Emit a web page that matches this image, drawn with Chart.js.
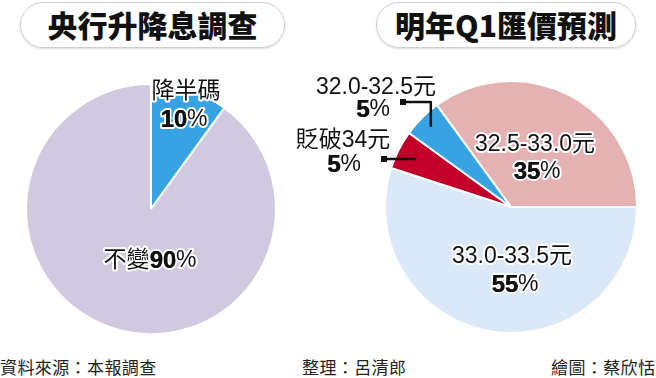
<!DOCTYPE html>
<html>
<head>
<meta charset="utf-8">
<script src="https://cdn.jsdelivr.net/npm/chart.js@4.4.0/dist/chart.umd.min.js"></script>
<style>
body { margin: 0; width: 656px; height: 378px; background: #fff; position: relative; overflow: hidden; }
.title { position: absolute; top: 2px; height: 46px; box-sizing: border-box; border: 1.5px solid #cfcfcf; border-radius: 23px;
  font: 900 30px "Noto Sans CJK TC", sans-serif; line-height: 42px; text-align: center; color: #111;
  box-shadow: 0 1px 2px rgba(0,0,0,0.15); }
canvas { position: absolute; }
.foot { position: absolute; top: 356px; font: 17px "Noto Sans CJK TC", sans-serif; line-height: 22px; color: #222; letter-spacing: 0.4px; }
</style>
</head>
<body>
<div class="title" style="left:20px;width:265px">央行升降息調查</div>
<div class="title" style="left:376px;width:260px">明年Q1匯價預測</div>
<canvas id="rateChart" width="280" height="295" style="left:0;top:50px"></canvas>
<canvas id="fxChart" width="376" height="295" style="left:280px;top:50px"></canvas>
<div class="foot" style="left:0">資料來源：本報調查</div>
<div class="foot" style="left:302px">整理：呂清郎</div>
<div class="foot" style="left:551px">繪圖：蔡欣恬</div>

<script>
// central bank survey
const rateCategories = ['降半碼', '不變'];
const rateValues = [10, 90];
const rateColors = ['#38a3e3', '#d1c9e0'];

// Q1 exchange-rate forecast
const fxCategories = ['32.5-33.0元', '33.0-33.5元', '貶破34元', '32.0-32.5元'];
const fxValues = [35, 55, 5, 5];
const fxColors = ['#e4b2b2', '#dbe8f8', '#c3002a', '#38a3e3'];

const nameFont = '23px "Liberation Sans", "Noto Sans CJK TC", sans-serif';
const numFont = 'bold 24px "Liberation Sans", sans-serif';
const pctFont = '23px "Liberation Sans", sans-serif';

// draws a line made of pieces, bold digits and regular text
function drawPieces(ctx, pieces, cx, cy, halo) {
    let w = 0;
    pieces.forEach(p => { ctx.font = p.font; w += ctx.measureText(p.text).width; });
    let x = cx - w / 2;
    ctx.textBaseline = 'middle';
    ctx.textAlign = 'left';
    pieces.forEach(p => {
        ctx.font = p.font;
        if (halo) {
            ctx.lineWidth = 4;
            ctx.lineJoin = 'round';
            ctx.strokeStyle = '#fff';
            ctx.strokeText(p.text, x, cy);
        }
        ctx.fillStyle = '#111';
        ctx.fillText(p.text, x, cy);
        if (p.font === numFont) ctx.fillText(p.text, x + 0.6, cy); // a touch heavier
        x += ctx.measureText(p.text).width;
    });
}

function valuePieces(v) {
    return [{ text: String(v), font: numFont }, { text: '%', font: pctFont }];
}

const sliceLabels = {
    id: 'sliceLabels',
    afterDatasetsDraw(chart, args, opts) {
        const ctx = chart.ctx;
        const meta = chart.getDatasetMeta(0);
        const names = chart.data.labels;
        const values = chart.data.datasets[0].data;
        ctx.save();
        meta.data.forEach((arc, i) => {
            const lay = opts.layout[i];
            if (!lay) return;
            const cx = arc.x, cy = arc.y;
            if (lay.leader) {
                const mid = (arc.startAngle + arc.endAngle) / 2;
                const r = arc.outerRadius * lay.leader.frac;
                const ex = cx + Math.cos(mid) * r;
                const ey = cy + Math.sin(mid) * r;
                const dx = cx + lay.leader.dot[0], dy = cy + lay.leader.dot[1];
                ctx.strokeStyle = '#111';
                ctx.lineWidth = 2.5;
                ctx.beginPath();
                ctx.moveTo(dx, dy);
                ctx.lineTo(ex, dy);
                ctx.lineTo(ex, ey);
                ctx.stroke();
                ctx.fillStyle = '#111';
                ctx.fillRect(dx - 3, dy - 3, 6, 6);
            }
            if (lay.inline) {
                drawPieces(ctx, [{ text: names[i], font: nameFont }].concat(valuePieces(values[i])),
                    cx + lay.inline[0], cy + lay.inline[1], lay.halo);
            } else {
                drawPieces(ctx, [{ text: names[i], font: nameFont }], cx + lay.name[0], cy + lay.name[1], lay.halo);
                drawPieces(ctx, valuePieces(values[i]), cx + lay.value[0], cy + lay.value[1], lay.halo);
            }
        });
        ctx.restore();
    }
};

function makePie(id, labels, values, colors, rotation, padding, layout) {
    return new Chart(document.getElementById(id), {
        type: 'pie',
        data: {
            labels: labels,
            datasets: [{
                data: values,
                backgroundColor: colors,
                borderColor: '#fff',
                borderWidth: 2
            }]
        },
        options: {
            responsive: false,
            animation: false,
            events: [],
            rotation: rotation,
            layout: { padding: padding },
            plugins: {
                legend: { display: false },
                tooltip: { enabled: false },
                sliceLabels: { layout: layout }
            }
        },
        plugins: [sliceLabels]
    });
}

makePie('rateChart', rateCategories, rateValues, rateColors, 0,
    { left: 25, right: 3, top: 33, bottom: 10 },
    [
        { name: [35, -117], value: [33, -89], halo: true },
        { inline: [-1, 52], halo: true }
    ]);

makePie('fxChart', fxCategories, fxValues, fxColors, -36,
    { left: 104, right: 18, top: 30, bottom: 11 },
    [
        { name: [24, -62], value: [26, -35], halo: true },
        { name: [1, 50], value: [4, 78], halo: true },
        { name: [-168, -66], value: [-167, -42], leader: { dot: [-127, -48], frac: 0.86 } },
        { name: [-135, -119], value: [-138, -97], leader: { dot: [-108, -105], frac: 0.9 } }
    ]);
</script>
</body>
</html>
